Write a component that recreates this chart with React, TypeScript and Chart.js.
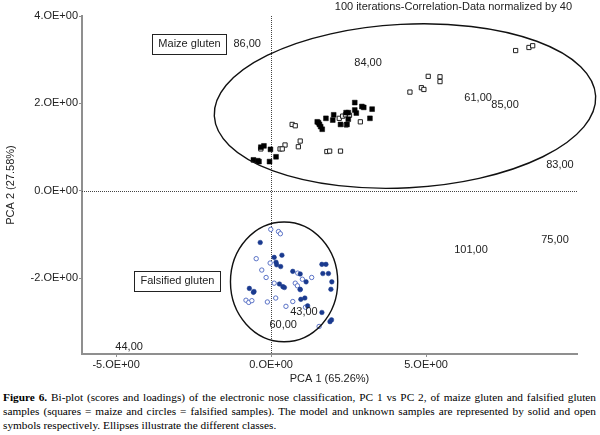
import React, { useEffect, useRef } from 'react';
import { Chart, registerables } from 'chart.js';

Chart.register(...registerables);

// ---- Data ----
const maizeModelX = [2.70, 2.93, 2.99, 3.26, 2.70, 2.42, 2.49, 2.75, 2.02, 1.77, 1.99, 3.19, 2.49, 1.49, 1.53, 1.56, 1.60, 1.65, 2.24, 2.45, -0.33, -0.23, -0.02, -0.57, -0.43, -0.39, 0.16, -0.05];
const maizeModelY = [2.02, 1.93, 1.91, 1.87, 1.85, 1.79, 1.79, 1.78, 1.74, 1.66, 1.62, 1.66, 1.64, 1.58, 1.56, 1.52, 1.47, 1.41, 1.52, 1.52, 1.00, 1.03, 0.95, 0.71, 0.69, 0.67, 0.78, 0.67];

const maizeUnknownX = [7.89, 8.32, 8.44, 5.07, 5.45, 5.45, 4.48, 4.85, 4.93, 2.20, 2.31, 2.40, 2.53, 2.88, 2.42, 0.68, 0.78, 0.94, 0.88, 0.45, 0.29, 0.36, -0.33, 1.80, 1.89, 2.24];
const maizeUnknownY = [3.21, 3.28, 3.32, 2.62, 2.61, 2.50, 2.26, 2.36, 2.32, 1.66, 1.71, 1.74, 1.73, 1.58, 1.51, 1.52, 1.49, 1.14, 1.01, 1.05, 0.96, 0.96, 0.96, 0.90, 0.91, 0.91];

const falsModelX = [-0.35, 0.10, 0.35, 0.16, 0.18, 0.31, 0.70, 0.94, 1.13, 0.27, 0.38, 0.43, -0.70, -0.55, -0.57, 0.94, 0.96, 1.09, 1.18, 1.64, 1.77, 1.67, 1.85, 1.96, 1.93, 1.64, 1.90, 1.95];
const falsModelY = [-1.18, -1.52, -1.47, -1.63, -1.69, -1.73, -1.84, -1.90, -2.08, -2.13, -2.19, -2.21, -2.23, -2.30, -2.32, -2.25, -2.48, -2.45, -2.63, -1.68, -1.68, -1.89, -1.89, -2.08, -2.25, -2.78, -2.99, -2.95];

const falsUnknownX = [-0.01, 0.24, 0.30, -0.48, -0.03, -0.30, -0.16, 0.10, 0.86, 1.01, 1.31, 0.78, 0.85, 0.94, -0.81, -0.72, -0.62, -0.12, 0.15, 0.48, 0.70, 1.11, 1.55];
const falsUnknownY = [-0.88, -0.93, -0.98, -1.55, -1.65, -1.81, -1.98, -2.11, -1.88, -2.02, -1.98, -2.11, -2.17, -2.26, -2.50, -2.55, -2.51, -2.54, -2.45, -2.64, -2.53, -2.66, -3.10];

// loadings (variable labels)
const loadingLabels = ['86,00', '84,00', '61,00', '85,00', '83,00', '101,00', '75,00', '43,00', '60,00', '44,00'];
const loadingX = [-0.77, 3.13, 6.68, 7.55, 9.32, 6.45, 9.16, 1.06, 0.39, -4.58];
const loadingY = [3.36, 2.93, 2.13, 1.97, 0.59, -1.35, -1.12, -2.77, -3.06, -3.57];

// class ellipses (data units)
const ellipseNames = ['Maize gluten', 'Falsified gluten'];
const ellipseCX = [4.32, 0.42];
const ellipseCY = [1.94, -2.08];
const ellipseRX = [6.16, 1.73];
const ellipseRY = [1.87, 1.37];
const ellipseTiltDeg = [-3.0, 0];
const classBoxX = [-2.63, -3.02];
const classBoxY = [3.37, -2.05];

const xTickValues = [-5, 0, 5];
const xTickLabels = ['-5.OE+00', '0.OE+00', '5.OE+00'];
const yTickValues = [-2, 0, 2, 4];
const yTickLabels = ['-2.OE+00', '0.OE+00', '2.OE+00', '4.OE+00'];

const xMin = -6.1;
const xMax = 9.87;
const yMin = -3.73;
const yMax = 4;

const topNote = '100 iterations-Correlation-Data normalized by 40';
const xTitle = 'PCA 1 (65.26%)';
const yTitle = 'PCA 2 (27.58%)';

const FONT = "'Liberation Sans', Arial, Helvetica, sans-serif";
const AXIS_GRAY = '#8f8f8f';
const TEXT = '#222222';

function pts(xs: number[], ys: number[]) {
  return xs.map((x, i) => ({ x, y: ys[i] }));
}

const overlayPlugin = {
  id: 'overlay',
  beforeDatasetsDraw(chart: any) {
    const { ctx, chartArea, scales } = chart;
    const xs = scales.x;
    const ys = scales.y;
    ctx.save();
    ctx.strokeStyle = '#444';
    ctx.lineWidth = 1;
    ctx.setLineDash([1, 1]);
    const x0 = Math.round(xs.getPixelForValue(0)) + 0.5;
    const y0 = Math.round(ys.getPixelForValue(0)) + 0.5;
    ctx.beginPath();
    ctx.moveTo(x0, chartArea.top);
    ctx.lineTo(x0, chartArea.bottom);
    ctx.moveTo(chartArea.left, y0);
    ctx.lineTo(chartArea.right, y0);
    ctx.stroke();
    ctx.restore();
  },
  afterDatasetsDraw(chart: any) {
    const { ctx, scales } = chart;
    const xs = scales.x;
    const ys = scales.y;
    ctx.save();
    // ellipses
    ctx.strokeStyle = '#111';
    ctx.lineWidth = 1.4;
    for (let i = 0; i < ellipseCX.length; i++) {
      const cx = xs.getPixelForValue(ellipseCX[i]);
      const cy = ys.getPixelForValue(ellipseCY[i]);
      const rx = Math.abs(xs.getPixelForValue(ellipseCX[i] + ellipseRX[i]) - cx);
      const ry = Math.abs(ys.getPixelForValue(ellipseCY[i] + ellipseRY[i]) - cy);
      ctx.beginPath();
      ctx.ellipse(cx, cy, rx, ry, (ellipseTiltDeg[i] * Math.PI) / 180, 0, Math.PI * 2);
      ctx.stroke();
    }
    // loading labels
    ctx.font = `11px ${FONT}`;
    ctx.fillStyle = TEXT;
    ctx.textAlign = 'center';
    ctx.textBaseline = 'middle';
    for (let i = 0; i < loadingLabels.length; i++) {
      ctx.fillText(loadingLabels[i], xs.getPixelForValue(loadingX[i]), ys.getPixelForValue(loadingY[i]));
    }
    // class boxes
    for (let i = 0; i < ellipseNames.length; i++) {
      const px = xs.getPixelForValue(classBoxX[i]);
      const py = ys.getPixelForValue(classBoxY[i]);
      const w = ctx.measureText(ellipseNames[i]).width + 12;
      const h = 20;
      ctx.fillStyle = '#fff';
      ctx.fillRect(px - w / 2, py - h / 2, w, h);
      ctx.strokeStyle = '#222';
      ctx.lineWidth = 1;
      ctx.strokeRect(Math.round(px - w / 2) + 0.5, Math.round(py - h / 2) + 0.5, Math.round(w), h);
      ctx.fillStyle = TEXT;
      ctx.fillText(ellipseNames[i], px, py);
    }
    // top note
    ctx.textAlign = 'right';
    ctx.fillText(topNote, 572, 7);
    ctx.restore();
  },
};

function ChartCanvas() {
  const ref = useRef<HTMLCanvasElement | null>(null);
  useEffect(() => {
    if (!ref.current) return;
    const chart = new Chart(ref.current, {
      type: 'scatter',
      data: {
        datasets: [
          {
            label: 'Maize model',
            data: pts(maizeModelX, maizeModelY),
            pointStyle: 'rect',
            pointRadius: 3.4,
            backgroundColor: '#000',
            borderColor: '#000',
            borderWidth: 0.5,
          },
          {
            label: 'Maize unknown',
            data: pts(maizeUnknownX, maizeUnknownY),
            pointStyle: 'rect',
            pointRadius: 3,
            backgroundColor: '#fff',
            borderColor: '#222',
            borderWidth: 1,
          },
          {
            label: 'Falsified model',
            data: pts(falsModelX, falsModelY),
            pointStyle: 'circle',
            pointRadius: 2.3,
            backgroundColor: '#1a3a8f',
            borderColor: '#1a3a8f',
            borderWidth: 0.5,
          },
          {
            label: 'Falsified unknown',
            data: pts(falsUnknownX, falsUnknownY),
            pointStyle: 'circle',
            pointRadius: 2.2,
            backgroundColor: '#fff',
            borderColor: '#5a72c6',
            borderWidth: 1,
          },
        ],
      },
      options: {
        responsive: false,
        animation: false,
        events: [],
        layout: { padding: { top: 16, right: 23, left: 0, bottom: 0 } },
        plugins: {
          legend: { display: false },
          tooltip: { enabled: false },
          title: { display: false },
        },
        scales: {
          x: {
            type: 'linear',
            min: xMin,
            max: xMax,
            afterFit: (s: any) => {
              s.height = 36;
            },
            afterBuildTicks: (s: any) => {
              s.ticks = xTickValues.map((v) => ({ value: v }));
            },
            ticks: {
              callback: (v: any) => {
                const i = xTickValues.indexOf(Number(v));
                return i >= 0 ? xTickLabels[i] : '';
              },
              font: { family: FONT, size: 11 },
              color: TEXT,
              padding: 1,
              maxRotation: 0,
              autoSkip: false,
            },
            grid: { drawOnChartArea: false, drawTicks: true, tickLength: 3, color: AXIS_GRAY },
            border: { display: true, color: AXIS_GRAY, width: 2 },
            title: { display: true, text: xTitle, font: { family: FONT, size: 11 }, color: TEXT, padding: { top: 2, bottom: 4 } },
          },
          y: {
            type: 'linear',
            min: yMin,
            max: yMax,
            afterFit: (s: any) => {
              s.width = 82;
            },
            afterBuildTicks: (s: any) => {
              s.ticks = yTickValues.map((v) => ({ value: v }));
            },
            ticks: {
              callback: (v: any) => {
                const i = yTickValues.indexOf(Number(v));
                return i >= 0 ? yTickLabels[i] : '';
              },
              font: { family: FONT, size: 11 },
              color: TEXT,
              padding: 1,
              autoSkip: false,
            },
            grid: { drawOnChartArea: false, drawTicks: true, tickLength: 3, color: AXIS_GRAY },
            border: { display: true, color: AXIS_GRAY, width: 2 },
            title: { display: true, text: yTitle, font: { family: FONT, size: 11 }, color: TEXT, padding: { top: 4, bottom: 4 } },
          },
        },
      },
      plugins: [overlayPlugin],
    });
    return () => chart.destroy();
  }, []);
  return <canvas ref={ref} width={600} height={390} style={{ display: 'block', width: 600, height: 390 }} />;
}

const captionStyle: React.CSSProperties = {
  fontFamily: "'Liberation Serif', 'Times New Roman', serif",
  fontSize: 11.3,
  lineHeight: '14px',
  color: '#000',
};

export default function App() {
  return (
    <div style={{ position: 'absolute', left: 0, top: 0, width: 600, height: 435, background: '#fff', overflow: 'hidden' }}>
      <ChartCanvas />
      <div style={{ position: 'absolute', left: 3, top: 390, width: 593, ...captionStyle }}>
        <div style={{ textAlign: 'justify', textAlignLast: 'justify', whiteSpace: 'nowrap' }}>
          <b>Figure 6.</b> Bi-plot (scores and loadings) of the electronic nose classification, PC 1 vs PC 2, of maize gluten and falsified gluten
        </div>
        <div style={{ textAlign: 'justify', textAlignLast: 'justify', whiteSpace: 'nowrap' }}>
          samples (squares = maize and circles = falsified samples). The model and unknown samples are represented by solid and open
        </div>
        <div style={{ textAlign: 'left', whiteSpace: 'nowrap' }}>
          symbols respectively. Ellipses illustrate the different classes.
        </div>
      </div>
    </div>
  );
}
